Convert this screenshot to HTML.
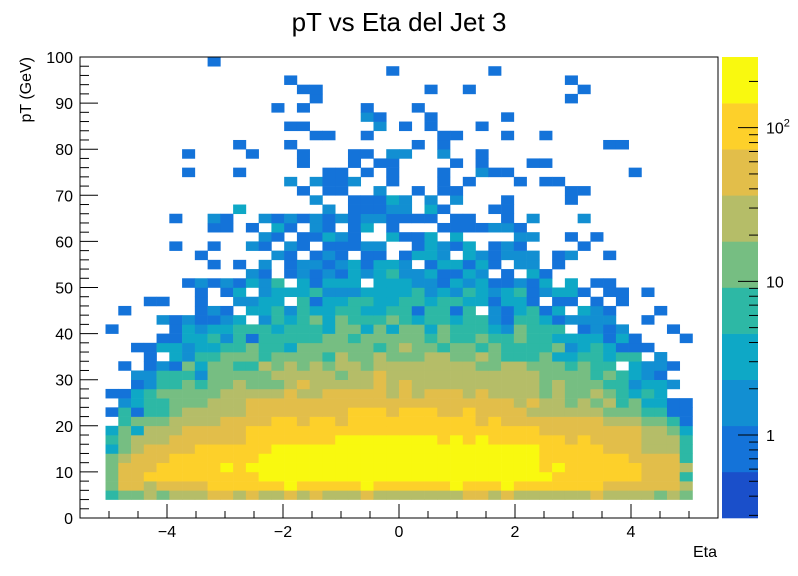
<!DOCTYPE html>
<html><head><meta charset="utf-8"><style>
html,body{margin:0;padding:0;background:#fff;}
svg{display:block;font-family:"Liberation Sans",Arial,sans-serif;}
</style></head><body>
<svg id="chart" width="798" height="576" viewBox="0 0 798 576" xmlns="http://www.w3.org/2000/svg">
<rect x="0" y="0" width="798" height="576" fill="#fff"/>
<text x="399" y="31" text-anchor="middle" font-size="26" fill="#000">pT vs Eta del Jet 3</text>
<g id="cells"></g>
<g id="axes"></g>
<g id="cbar"></g>
<text transform="translate(31,57) rotate(-90)" text-anchor="end" font-size="16" fill="#000">pT (GeV)</text>
<text x="717" y="557" text-anchor="end" font-size="16" fill="#000">Eta</text>
</svg>
<script>
// binning
const etaRange = [-5.5, 5.5];
const ptRange = [0, 100];
const nEtaBins = 50;
const nPtBins = 50;
// color levels: representative counts per contour level (0..9)
const levelCounts = [0.5, 1, 2, 4, 7, 14, 28, 55, 110, 220];
const zLogRange = [-0.54, 2.46];
const xTickLabels = [-4, -2, 0, 2, 4];
const yTickLabels = [0, 10, 20, 30, 40, 50, 60, 70, 80, 90, 100];
const zTickValues = [1, 10, 100];
// rows from pT bin 0 (bottom) to 49 (top); each char = contour level of the bin, '.' = empty
const rows = [
"..................................................",
"..................................................",
".."+"45565666"+"7767667676"+"6676666666"+"7767666666"+"76666565"+"..",
".."+"57767777"+"8888889888"+"8898888889"+"8889888888"+"87777776"+"..",
".."+"57788888"+"8888999999"+"9999999999"+"9999999888"+"88887774"+"..",
".."+"57778888"+"8989999999"+"9999999999"+"9999998988"+"88887776"+"..",
".."+"56777888"+"8888999999"+"9999999999"+"9999998888"+"88877774"+"..",
".."+"35677778"+"8888899999"+"9999999999"+"9999998888"+"87776664"+"..",
".."+"45666777"+"7778888888"+"9999999989"+"8988888878"+"77776664"+"..",
".."+"35366677"+"7778888888"+"8888888888"+"8888887777"+"77776653"+"..",
".."+".4555666"+"6777788788"+"7888888888"+"8787777777"+"76665541"+"..",
".."+"14144566"+"6667777777"+"7888788877"+"8777766666"+"65554411"+"..",
".."+".2344555"+"6667777777"+"7777777777"+"7777676656"+"56453311"+"..",
".."+"11345555"+"5666667667"+"7777676777"+"6766665655"+"654343.."+"..",
".."+"..124454"+"5565556766"+"6667676666"+"6666665655"+"5442332."+"..",
".."+"..224442"+"5555566666"+"5667666666"+"6666665555"+"454321.."+"..",
".."+".1.12153"+"5544656565"+"6656666666"+"6556655545"+"44.3221."+"..",
".."+"...1.324"+"4555455554"+"6556555665"+"5654445334"+"4344.2.."+"..",
".."+"..113323"+"3445443555"+"5554565545"+"5454444523"+"43111..."+"..",
".."+"....1133"+"4241444445"+"5455555454"+"4544544333"+"3131...1"+"..",
".."+"1....132"+"3344434443"+"5535355354"+"44325444.1"+"212...1."+"..",
".."+"....2121"+"123.243453"+"5444543443"+"4421443122"+"22..1..."+"..",
".."+".1.....1"+"21.3342433"+"4433441441"+"4.213413.3"+"21...1.."+"..",
".."+"...11..1"+"..2233.413"+"3443344344"+"331331.11."+"1.1....."+"..",
".."+".......1"+".13.233342"+"2233334232"+"4323412331"+".11.1..."+"..",
".."+"......12"+"121324.313"+"33.3332213"+"2311213.3."+"11......"+"..",
".........."+"...21.1212"+"1323422311"+"32.1.31..."+"..........",
".........."+"1.1.2.1221"+"231332.133"+"131.22.1.."+"..........",
".........1"+".....21.12"+"1.11.1332."+"321222.12."+".1........",
".......1.."+"1..21.21.1"+"1122..1321"+"3.121....1"+"..........",
".........."+"....21.113"+"21..3113.3"+"....22..1."+"1.........",
".........."+"11.1.31.21"+".13.1...11"+"11221....."+"..........",
".......1.."+"21..212121"+"21221111.1"+"1..1.2...2"+"..........",
".........."+"..3......2"+".11122.31."+"..11......"+"..........",
".........."+"........2."+".11132.2.2"+"...1....1."+"..........",
".........."+".......1.1"+"1..2..1.11"+"........11"+"..........",
".........."+"......2.21"+"12..1...1."+"1...1.11.."+"..........",
"........1."+"..1......1"+"1.1.1...1."+".211......"+"...1......",
".........."+".......1.."+".1.11....1"+".1...11..."+"..........",
"........1."+"...1...1.."+".11.22..2."+".1........"+"..........",
".........."+"..1...1..."+"......1.1."+".........."+".11.......",
".........."+"........11"+"..1.....11"+"...1..1..."+"..........",
".........."+"......11.."+"...2.1.1.."+".1........"+"..........",
".........."+".........."+"..21...1.."+"...1......"+"..........",
".........."+".....1.1.."+"..1...1..."+".........."+"..........",
".........."+"........1."+".........."+"........1."+"..........",
".........."+".......11."+".......1.."+"1........1"+"..........",
".........."+"......1..."+".........."+"........1."+"..........",
".........."+".........."+"....1....."+"..1......."+"..........",
".........."+"1........."+".........."+".........."+".........."
];
const palette = ["#1a4fca","#1473d9","#128fd2","#0ea8c6","#2db8a5","#76be82","#b5bd68","#e2be4a","#fdd02a","#f9f90f"];

const NS = "http://www.w3.org/2000/svg";
const frame = {x0:80, x1:718, y0:57, y1:518};
const xScale = v => frame.x0 + (v - etaRange[0]) / (etaRange[1]-etaRange[0]) * (frame.x1-frame.x0);
const yScale = v => frame.y1 - (v - ptRange[0]) / (ptRange[1]-ptRange[0]) * (frame.y1-frame.y0);
const cb = {x0:722, x1:758, y0:57, y1:518};
const zScale = v => cb.y1 - (Math.log10(v) - zLogRange[0]) / (zLogRange[1]-zLogRange[0]) * (cb.y1-cb.y0);
function colorFor(v){
  let l = Math.floor((Math.log10(v)-zLogRange[0])/(zLogRange[1]-zLogRange[0])*palette.length);
  l = Math.max(0, Math.min(palette.length-1, l));
  return palette[l];
}
function mk(tag, attrs, parent){
  const e = document.createElementNS(NS, tag);
  for (const k in attrs) e.setAttribute(k, attrs[k]);
  parent.appendChild(e);
  return e;
}
const cellsG = document.getElementById('cells');
const dEta = (etaRange[1]-etaRange[0])/nEtaBins, dPt = (ptRange[1]-ptRange[0])/nPtBins;
for (let r=0; r<nPtBins; r++){
  const s = (rows[r]||"").padEnd(nEtaBins,'.');
  for (let c=0; c<nEtaBins; c++){
    const ch = s[c];
    if (ch === '.' ) continue;
    const count = levelCounts[parseInt(ch,10)];
    const xa = xScale(etaRange[0]+c*dEta), xb = xScale(etaRange[0]+(c+1)*dEta);
    const ya = yScale(ptRange[0]+(r+1)*dPt), yb = yScale(ptRange[0]+r*dPt);
    const rc = mk('rect', {x:xa.toFixed(2), y:ya.toFixed(2), width:(xb-xa+0.3).toFixed(2), height:(yb-ya+0.3).toFixed(2), fill:colorFor(count)}, cellsG);
    
    
  }
}
const ax = document.getElementById('axes');
const fr = mk('rect', {x:frame.x0, y:frame.y0, width:frame.x1-frame.x0, height:frame.y1-frame.y0, fill:'none', stroke:'#000', 'stroke-width':1}, ax);


for (let v=-5.5; v<=5.5001; v+=0.5){
  const major = Math.abs(Math.round(v)-v)<1e-6 && Math.round(v)%2===0;
  if (Math.abs(Math.abs(v)-5.5)<1e-6) continue;
  const x = xScale(v);
  const t = mk('line', {x1:x, x2:x, y1:frame.y1, y2:frame.y1-(major?14:7), stroke:'#000','stroke-width':1}, ax);
  
  
}
xTickLabels.forEach(v=>{
  const t = mk('text', {x:xScale(v), y:537, 'text-anchor':'middle','font-size':16, fill:'#000'}, ax);
  t.textContent = v<0 ? '\u2212'+Math.abs(v) : String(v);
  
  
});
for (let v=0; v<=100; v+=2){
  const major = v%10===0;
  const y = yScale(v);
  const t = mk('line', {x1:frame.x0, x2:frame.x0+(major?18:9), y1:y, y2:y, stroke:'#000','stroke-width':1}, ax);
  
  
}
yTickLabels.forEach(v=>{
  const t = mk('text', {x:73, y:yScale(v)+6, 'text-anchor':'end','font-size':16, fill:'#000'}, ax);
  t.textContent = String(v);
  
  
});
const cbG = document.getElementById('cbar');
const bandH = (cb.y1-cb.y0)/palette.length;
palette.forEach((col,i)=>{
  const b = mk('rect', {x:cb.x0, y:(cb.y1-(i+1)*bandH).toFixed(2), width:cb.x1-cb.x0, height:(bandH+0.3).toFixed(2), fill:col}, cbG);
  
  
});
for (let d=-1; d<=2; d++){
  for (let m=1; m<=9; m++){
    const v = m*Math.pow(10,d);
    const y = zScale(v);
    if (y < cb.y0-0.5 || y > cb.y1+0.5) continue;
    const t = mk('line', {x1:cb.x1-(m===1?20:9), x2:cb.x1, y1:y, y2:y, stroke:'#000','stroke-width':1}, cbG);
    
    
  }
}
zTickValues.forEach(v=>{
  const y = zScale(v);
  const t = mk('text', {x:766, y:y+6, 'font-size':16, fill:'#000'}, cbG);
  if (v===100){
    t.textContent = '10';
    const sup = mk('tspan', {dy:-7, 'font-size':11}, t);
    sup.textContent = '2';
  } else {
    t.textContent = String(v);
  }
  
  
});
</script>
</body></html>
